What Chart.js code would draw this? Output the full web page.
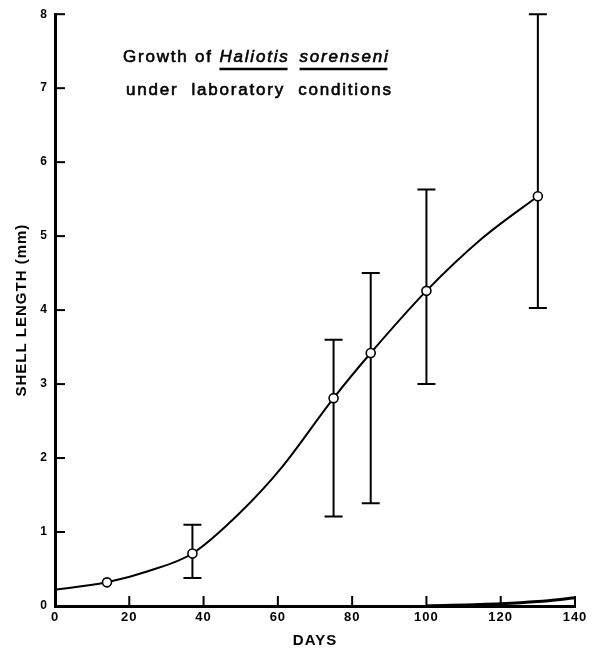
<!DOCTYPE html>
<html>
<head>
<meta charset="utf-8">
<script src="https://cdn.jsdelivr.net/npm/chart.js@4.4.1/dist/chart.umd.min.js"></script>
<style>
  html, body { margin: 0; padding: 0; background: #fff; }
  #wrap { width: 598px; height: 650px; position: relative; }
</style>
</head>
<body>
<div id="wrap"><canvas id="growthChart"></canvas></div>
<script>
// measured points (days, mean shell length in mm) and range bars
const days = [14, 37, 75, 85, 100, 130];
const meanLength = [0.32, 0.71, 2.81, 3.42, 4.26, 5.54];
const lowBar = [null, 0.38, 1.21, 1.39, 3.0, 4.03];
const highBar = [null, 1.1, 3.6, 4.5, 5.63, 8.0];

// hand drawn growth curve
const curveDays = [0, 14, 25, 37, 50, 61, 75, 85, 100, 115, 130];
const curveLength = [0.22, 0.32, 0.47, 0.71, 1.27, 1.87, 2.81, 3.42, 4.26, 4.97, 5.54];

// the bottom axis line bends up a little at the right end
const baseDays = [100, 120, 130, 140];
const baseLength = [0, 0.03, 0.06, 0.11];

const xTicks = [0, 20, 40, 60, 80, 100, 120, 140];
const yTicks = [0, 1, 2, 3, 4, 5, 6, 7, 8];

function toXY(xs, ys) {
    var out = [];
    for (var i = 0; i < xs.length; i++) {
        out.push({x: xs[i], y: ys[i]});
    }
    return out;
}

// ticks point into the plot, so draw them ourselves from the scales
const insideTicks = {
    id: 'insideTicks',
    afterDraw(chart) {
        const ctx = chart.ctx;
        const xs = chart.scales.x, ys = chart.scales.y;
        const area = chart.chartArea;
        ctx.save();
        ctx.strokeStyle = '#000';
        ctx.lineWidth = 2;
        xTicks.forEach(function (t) {
            if (t === 0) return;
            const px = xs.getPixelForValue(t);
            ctx.beginPath();
            ctx.moveTo(px, area.bottom);
            ctx.lineTo(px, area.bottom - 10);
            ctx.stroke();
        });
        yTicks.forEach(function (t) {
            if (t === 0) return;
            const py = ys.getPixelForValue(t);
            ctx.beginPath();
            ctx.moveTo(area.left, py);
            ctx.lineTo(area.left + 10, py);
            ctx.stroke();
        });
        ctx.restore();
    }
};

const rangeBars = {
    id: 'rangeBars',
    beforeDatasetsDraw(chart) {
        const ctx = chart.ctx;
        const xs = chart.scales.x, ys = chart.scales.y;
        ctx.save();
        ctx.strokeStyle = '#000';
        ctx.lineWidth = 2;
        for (var i = 0; i < days.length; i++) {
            if (lowBar[i] === null) continue;
            const px = xs.getPixelForValue(days[i]);
            const lo = ys.getPixelForValue(lowBar[i]);
            const hi = ys.getPixelForValue(highBar[i]);
            ctx.beginPath();
            ctx.moveTo(px, lo); ctx.lineTo(px, hi);
            ctx.moveTo(px - 9, lo); ctx.lineTo(px + 9, lo);
            ctx.moveTo(px - 9, hi); ctx.lineTo(px + 9, hi);
            ctx.stroke();
        }
        ctx.restore();
    }
};

const caption = {
    id: 'caption',
    beforeDraw(chart) {
        chart.ctx.letterSpacing = '1px';
    },
    afterDraw(chart) {
        const ctx = chart.ctx;
        ctx.save();
        ctx.fillStyle = '#000';
        ctx.strokeStyle = '#000';
        ctx.textBaseline = 'alphabetic';
        ctx.textAlign = 'left';
        ctx.letterSpacing = '1.8px';
        const regular = '17px "Liberation Sans", Arial, sans-serif';
        const italic = 'italic 17px "Liberation Sans", Arial, sans-serif';
        // slightly heavier than plain regular, like the original lettering
        function put(txt, x, y) {
            ctx.lineWidth = 0.6;
            ctx.fillText(txt, x, y);
            ctx.strokeText(txt, x, y);
        }
        let x = 123, y = 62;
        ctx.font = regular;
        put('Growth of ', x, y);
        x += ctx.measureText('Growth of ').width;
        ctx.font = italic;
        ['Haliotis', 'sorenseni'].forEach(function (word) {
            const w = ctx.measureText(word).width;
            put(word, x, y);
            ctx.lineWidth = 2.5;
            ctx.beginPath();
            ctx.moveTo(x, y + 7);
            ctx.lineTo(x + w - 2, y + 7);
            ctx.stroke();
            x += w + 10;
        });
        ctx.font = regular;
        put('under  laboratory  conditions', 126, 95);
        ctx.restore();
    }
};

const tickFont = {family: '"Liberation Sans", Arial, sans-serif', weight: 'bold', size: 13};
const titleFont = {family: '"Liberation Sans", Arial, sans-serif', weight: 'bold', size: 15};

new Chart(document.getElementById('growthChart').getContext('2d'), {
    type: 'scatter',
    data: {
        datasets: [{
            label: 'curve',
            data: toXY(curveDays, curveLength),
            showLine: true,
            cubicInterpolationMode: 'monotone',
            borderColor: '#000',
            borderWidth: 2,
            pointRadius: 0,
            order: 2
        }, {
            label: 'baseline',
            data: toXY(baseDays, baseLength),
            showLine: true,
            cubicInterpolationMode: 'monotone',
            borderColor: '#000',
            borderWidth: 3,
            pointRadius: 0,
            clip: false,
            order: 3
        }, {
            label: 'mean',
            data: toXY(days, meanLength),
            showLine: false,
            pointRadius: 4.5,
            pointBackgroundColor: '#fff',
            pointBorderColor: '#000',
            pointBorderWidth: 1.6,
            order: 1
        }]
    },
    options: {
        responsive: true,
        maintainAspectRatio: false,
        animation: false,
        events: [],
        layout: {padding: {top: 13, right: 23, left: 0, bottom: 0}},
        plugins: {legend: {display: false}, tooltip: {enabled: false}},
        scales: {
            x: {
                type: 'linear', min: 0, max: 140,
                afterFit: function (s) { s.height = 44; },
                afterBuildTicks: function (s) { s.ticks = xTicks.map(function (v) { return {value: v}; }); },
                ticks: {color: '#000', font: tickFont, padding: 4, maxRotation: 0},
                grid: {drawOnChartArea: false, drawTicks: false},
                border: {display: true, color: '#000', width: 3},
                title: {display: true, text: 'DAYS', color: '#000', font: titleFont, padding: {top: 0, bottom: 0}}
            },
            y: {
                type: 'linear', min: 0, max: 8,
                afterFit: function (s) { s.width = 55; },
                afterBuildTicks: function (s) { s.ticks = yTicks.map(function (v) { return {value: v}; }); },
                ticks: {color: '#000', font: {family: tickFont.family, weight: 'bold', size: 12}, padding: 7},
                grid: {drawOnChartArea: false, drawTicks: false},
                border: {display: true, color: '#000', width: 3},
                title: {display: true, text: 'SHELL LENGTH (mm)', color: '#000', font: titleFont, padding: {top: 13, bottom: 0}}
            }
        }
    },
    plugins: [insideTicks, rangeBars, caption]
});
</script>
</body>
</html>
